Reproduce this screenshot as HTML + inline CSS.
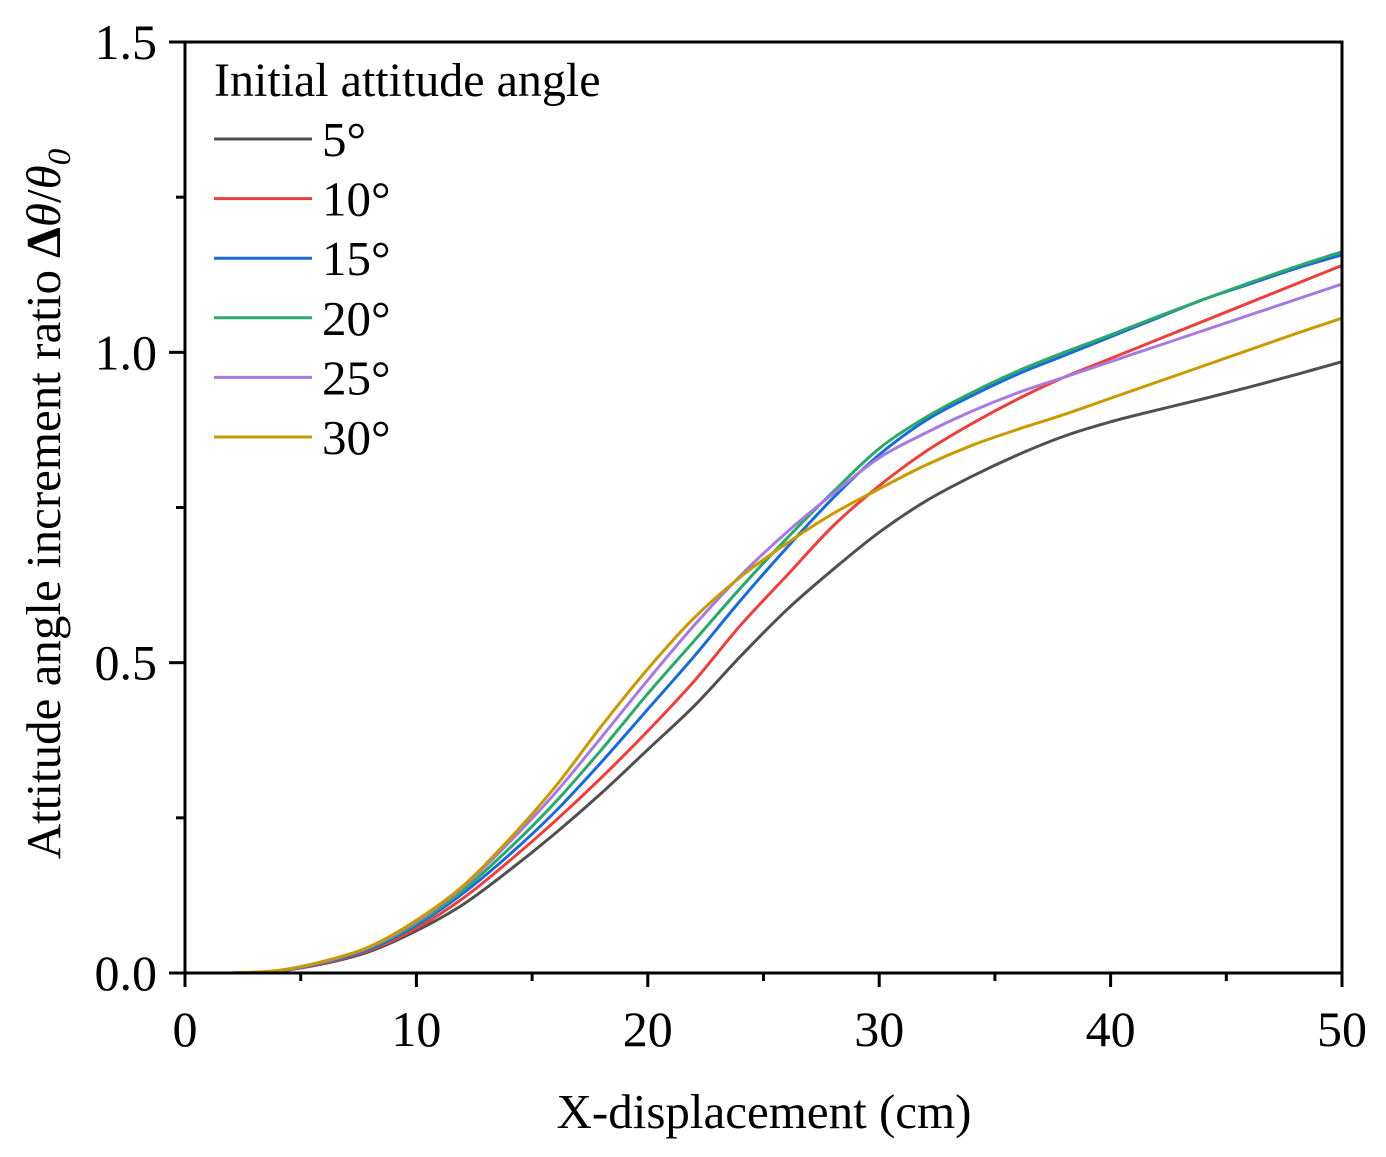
<!DOCTYPE html>
<html><head><meta charset="utf-8"><style>
html,body{margin:0;padding:0;background:#fff;}
svg{display:block;font-family:"Liberation Serif",serif;}
</style></head><body>
<svg id="chart" width="1386" height="1157" viewBox="0 0 1386 1157">
<g id="plot"></g>
<g id="axes"></g>
<g id="legend">
<text x="214" y="96" font-size="48">Initial attitude angle</text>
</g>
<text x="764" y="1128" font-size="49" text-anchor="middle">X-displacement (cm)</text>
<text transform="translate(60,504) rotate(-90)" font-size="49" text-anchor="middle">Attitude angle increment ratio <tspan font-weight="bold">Δ</tspan><tspan font-style="italic">θ</tspan>/<tspan font-style="italic">θ</tspan><tspan font-style="italic" font-size="33" dy="10">0</tspan></text>
</svg>
<script>
const xs = [2,4,6,8,10,12,14,16,18,20,22,24,26,28,30,32,34,36,38,40,42,44,46,48,50];
const seriesNames = ["5°","10°","15°","20°","25°","30°"];
const seriesColors = ["#505050","#e8413e","#1a6bd8","#2ea86a","#a77ae0","#c89a00"];
const s5  = [0,.003,.015,.035,.068,.11,.165,.225,.29,.36,.43,.51,.585,.65,.71,.76,.80,.835,.865,.888,.907,.925,.944,.964,.985];
const s10 = [0,.003,.016,.037,.072,.12,.18,.245,.315,.39,.47,.56,.64,.72,.785,.84,.885,.925,.96,.99,1.02,1.05,1.08,1.11,1.14];
const s15 = [0,.003,.017,.039,.077,.128,.19,.26,.34,.425,.51,.6,.685,.765,.835,.89,.93,.965,.995,1.025,1.055,1.085,1.11,1.135,1.157];
const s20 = [0,.0035,.018,.041,.08,.133,.2,.275,.36,.45,.535,.62,.7,.775,.845,.895,.935,.97,1.0,1.028,1.057,1.085,1.112,1.138,1.162];
const s25 = [0,.0035,.018,.042,.083,.138,.21,.29,.38,.472,.56,.64,.71,.772,.83,.87,.905,.935,.96,.985,1.01,1.035,1.06,1.085,1.11];
const s30 = [0,.004,.019,.043,.085,.14,.215,.3,.398,.49,.572,.638,.692,.74,.78,.818,.85,.876,.9,.926,.952,.978,1.004,1.03,1.055];
const xTicks = [0,10,20,30,40,50];
const yTicks = ["0.0","0.5","1.0","1.5"];
const allSeries = [s5,s10,s15,s20,s25,s30];

const X0=185,X1=1342,Y0=973,Y1=42;
const sx = v => X0 + (v/50)*(X1-X0);
const sy = v => Y0 - (v/1.5)*(Y0-Y1);
const NS="http://www.w3.org/2000/svg";
function mk(tag, attrs, parent){const e=document.createElementNS(NS,tag);for(const k in attrs)e.setAttribute(k,attrs[k]);parent.appendChild(e);return e;}
const plot=document.getElementById('plot'), axes=document.getElementById('axes'), legend=document.getElementById('legend');

function pathFor(vals){
  const p = xs.map((x,i)=>[sx(x),sy(vals[i])]);
  let d=`M${p[0][0]},${p[0][1]}`;
  for(let i=0;i<p.length-1;i++){
    const a=p[Math.max(i-1,0)],b=p[i],c=p[i+1],e=p[Math.min(i+2,p.length-1)];
    const c1=[b[0]+(c[0]-a[0])/6,b[1]+(c[1]-a[1])/6];
    const c2=[c[0]-(e[0]-b[0])/6,c[1]-(e[1]-b[1])/6];
    d+=` C${c1[0]},${c1[1]} ${c2[0]},${c2[1]} ${c[0]},${c[1]}`;
  }
  return d;
}
allSeries.forEach((vals,i)=>{
  const el=mk('path',{d:pathFor(vals),fill:'none',stroke:seriesColors[i],'stroke-width':3},plot);
  
  
  const ly=139+i*59.6;
  const ll=mk('line',{x1:214,x2:312,y1:ly,y2:ly,stroke:seriesColors[i],'stroke-width':3},legend);
  
  
  const lt=mk('text',{x:322,y:ly+17,'font-size':49},legend);
  lt.textContent=seriesNames[i];
  
  
});
const fr=mk('rect',{x:X0,y:Y1,width:X1-X0,height:Y0-Y1,fill:'none',stroke:'#000','stroke-width':3},axes);


for(let v=0;v<=50;v+=5){
  const major=v%10===0;
  const t=mk('line',{x1:sx(v),x2:sx(v),y1:Y0,y2:Y0+(major?14:8),stroke:'#000','stroke-width':3},axes);
  
  
}
xTicks.forEach(v=>{
  const t=mk('text',{x:sx(v),y:Y0+73,'font-size':50,'text-anchor':'middle'},axes);
  t.textContent=String(v);
  
  
});
for(let v=0;v<=1.5001;v+=0.25){
  const major=Math.abs(v*2-Math.round(v*2))<1e-6;
  const t=mk('line',{x1:X0,x2:X0-(major?16:9),y1:sy(v),y2:sy(v),stroke:'#000','stroke-width':3},axes);
  
  
}
yTicks.forEach(s=>{
  const t=mk('text',{x:X0-28,y:sy(parseFloat(s))+17,'font-size':50,'text-anchor':'end'},axes);
  t.textContent=s;
  
  
});
</script>
</body></html>
